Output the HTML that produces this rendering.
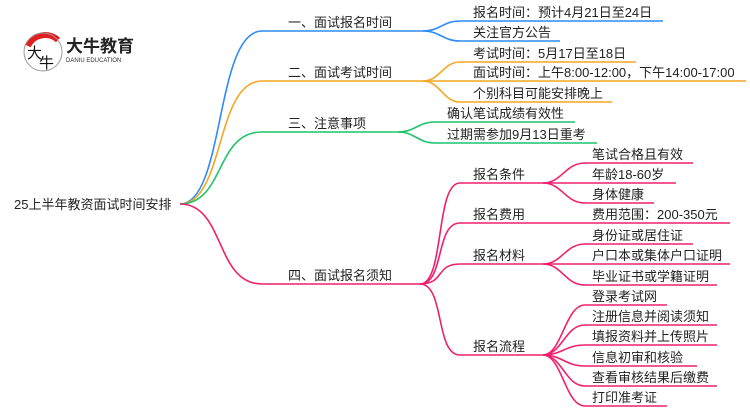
<!DOCTYPE html>
<html><head><meta charset="utf-8"><style>
html,body{margin:0;padding:0;background:#fff;width:750px;height:410px;overflow:hidden}
text{font-family:"Liberation Sans","Noto Sans CJK SC",sans-serif;font-size:13px;fill:#222}
</style></head><body>
<svg width="750" height="410" viewBox="0 0 750 410" xmlns="http://www.w3.org/2000/svg">
<!-- logo -->
<g>
<path d="M28,46 A19,19 0 0 1 58,40" stroke="#e02020" stroke-width="6" fill="none"/>
<circle cx="43" cy="52" r="19" fill="none" stroke="#999" stroke-width="1"/>
<text x="27" y="58" style="font-size:15px;fill:#111">大</text>
<text x="39" y="68" style="font-size:15px;fill:#111">牛</text>
<text x="66" y="52" style="font-size:17px;font-weight:bold;fill:#222">大牛教育</text>
<text x="66" y="62" style="font-size:6px;fill:#333">DANIU EDUCATION</text>
</g>
<g fill="none" stroke-width="1.6">
<!-- blue -->
<g stroke="#2f8cf5">
<path d="M180,204 C225,204 215,31 262,31 L423,31"/>
<path d="M423,31 C440,31 443,21 460,21 L663,21"/>
<path d="M423,31 C440,31 443,41 460,41 L560,41"/>
</g>
<g stroke="#f5a623">
<path d="M180,204 C225,204 215,81 262,81 L423,81"/>
<path d="M423,81 C440,81 443,62 460,62 L636,62"/>
<path d="M423,81 L746,81"/>
<path d="M423,81 C440,81 443,102 460,102 L612,102"/>
</g>
<g stroke="#1fc46b">
<path d="M180,204 C225,204 215,132 262,132 L398,132"/>
<path d="M398,132 C415,132 418,122 435,122 L575,122"/>
<path d="M398,132 C415,132 418,143 435,143 L597,143"/>
</g>
<g stroke="#f0206e">
<path d="M180,204 C225,204 215,284 262,284 L420,284"/>
<path d="M420,284 C445,284 435,183 460,183 L543,183"/>
<path d="M420,284 C445,284 435,223 460,223 L730,223"/>
<path d="M420,284 C445,284 435,264 460,264 L543,264"/>
<path d="M420,284 C445,284 435,355 460,355 L543,355"/>
<path d="M543,183 C562,183 565,163 585,163 L693,163"/>
<path d="M543,183 L676,183"/>
<path d="M543,183 C562,183 565,203 585,203 L654,203"/>
<path d="M543,264 C562,264 565,244 585,244 L693,244"/>
<path d="M543,264 L730,264"/>
<path d="M543,264 C562,264 565,285 585,285 L717,285"/>
<path d="M543,355 C562,355 565,305 585,305 L667,305"/>
<path d="M543,355 C562,355 565,325 585,325 L717,325"/>
<path d="M543,355 C562,355 565,345 585,345 L717,345"/>
<path d="M543,355 C562,355 565,366 585,366 L697,366"/>
<path d="M543,355 C562,355 565,386 585,386 L717,386"/>
<path d="M543,355 C562,355 565,406 585,406 L667,406"/>
</g>
</g>
<text x="14" y="209">25上半年教资面试时间安排</text>
<text x="288" y="27">一、面试报名时间</text>
<text x="288" y="77">二、面试考试时间</text>
<text x="288" y="128">三、注意事项</text>
<text x="288" y="280">四、面试报名须知</text>
<text x="473" y="17">报名时间：预计4月21日至24日</text>
<text x="473" y="37">关注官方公告</text>
<text x="473" y="58">考试时间：5月17日至18日</text>
<text x="473" y="77">面试时间：上午8:00-12:00，下午14:00-17:00</text>
<text x="473" y="98">个别科目可能安排晚上</text>
<text x="447" y="118">确认笔试成绩有效性</text>
<text x="447" y="139">过期需参加9月13日重考</text>
<text x="473" y="179">报名条件</text>
<text x="473" y="219">报名费用</text>
<text x="473" y="260">报名材料</text>
<text x="473" y="351">报名流程</text>
<text x="592" y="159">笔试合格且有效</text>
<text x="592" y="179">年龄18-60岁</text>
<text x="592" y="199">身体健康</text>
<text x="592" y="219">费用范围：200-350元</text>
<text x="592" y="240">身份证或居住证</text>
<text x="592" y="260">户口本或集体户口证明</text>
<text x="592" y="281">毕业证书或学籍证明</text>
<text x="592" y="301">登录考试网</text>
<text x="592" y="321">注册信息并阅读须知</text>
<text x="592" y="341">填报资料并上传照片</text>
<text x="592" y="362">信息初审和核验</text>
<text x="592" y="382">查看审核结果后缴费</text>
<text x="592" y="402">打印准考证</text>
</svg>
</body></html>
